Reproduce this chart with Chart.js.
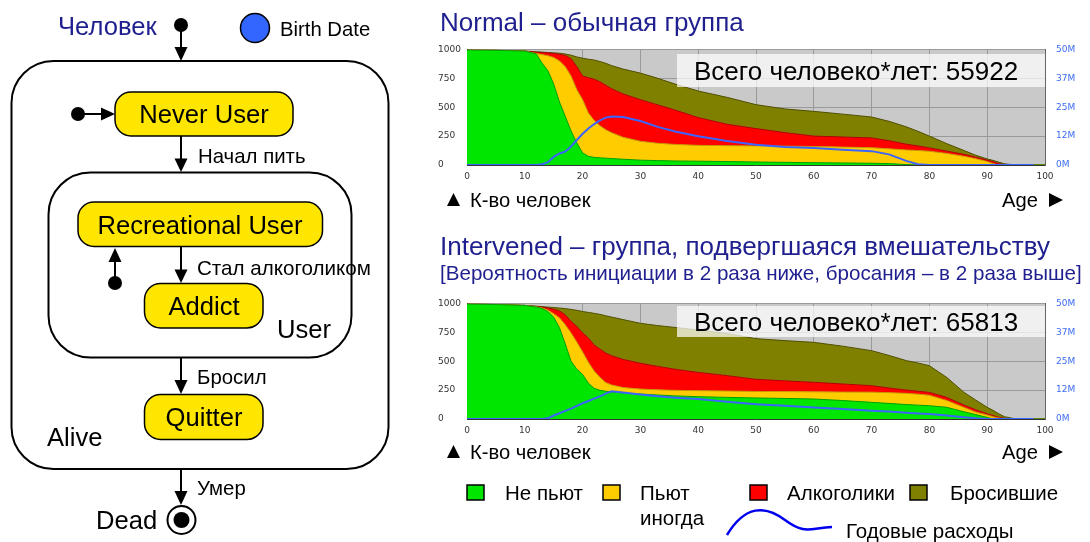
<!DOCTYPE html>
<html>
<head>
<meta charset="utf-8">
<script src="https://cdn.jsdelivr.net/npm/chart.js@4.4.1/dist/chart.umd.min.js"></script>
<style>
  body { margin: 0; background: #fff; width: 1090px; height: 542px; overflow: hidden; position: relative; font-family: "Liberation Sans", Arial, sans-serif; }
  .chartBox { position: absolute; left: 430px; width: 660px; height: 156px; }
  #overlay { position: absolute; left: 0; top: 0; pointer-events: none; }
  #overlay text { dominant-baseline: central; }
</style>
</head>
<body>
<div class="chartBox" style="top:33px"><canvas id="normalChart"></canvas></div>
<div class="chartBox" style="top:287px"><canvas id="intervChart"></canvas></div>

<svg id="overlay" width="1090" height="542" font-family="Liberation Sans, Arial, sans-serif">
  <!-- state diagram -->
  <text x="58" y="26" font-size="25.6" fill="#1f1f8f">Человек</text>
  <circle cx="181" cy="25" r="7" fill="#000"/>
  <line x1="181" y1="25" x2="181" y2="48" stroke="#000" stroke-width="2"/>
  <polygon points="174.5,47 187.5,47 181,61" fill="#000"/>
  <circle cx="255" cy="28" r="14.5" fill="#3366ff" stroke="#000" stroke-width="1.5"/>
  <text x="280" y="29" font-size="20.3">Birth Date</text>

  <rect x="11.5" y="61" width="377" height="408" rx="42" fill="none" stroke="#000" stroke-width="2"/>
  <rect x="115" y="92" width="178" height="44" rx="16" fill="#ffe600" stroke="#000" stroke-width="1.5"/>
  <text x="204" y="114" font-size="25.6" text-anchor="middle">Never User</text>
  <circle cx="78" cy="114" r="7" fill="#000"/>
  <line x1="78" y1="114" x2="102" y2="114" stroke="#000" stroke-width="2"/>
  <polygon points="101,107.5 101,120.5 115,114" fill="#000"/>

  <line x1="181" y1="136" x2="181" y2="160" stroke="#000" stroke-width="2"/>
  <polygon points="174.5,158.5 187.5,158.5 181,172" fill="#000"/>
  <text x="198" y="156" font-size="20.4">Начал пить</text>

  <rect x="48.5" y="172.5" width="303" height="185" rx="42" fill="none" stroke="#000" stroke-width="2"/>
  <rect x="78" y="202" width="244.5" height="44.5" rx="16" fill="#ffe600" stroke="#000" stroke-width="1.5"/>
  <text x="200" y="225" font-size="25.6" text-anchor="middle">Recreational User</text>
  <line x1="181" y1="247" x2="181" y2="270" stroke="#000" stroke-width="2"/>
  <polygon points="174.5,269.5 187.5,269.5 181,283" fill="#000"/>
  <text x="197" y="267" font-size="20.6">Стал алкоголиком</text>
  <circle cx="115" cy="283" r="7" fill="#000"/>
  <line x1="115" y1="283" x2="115" y2="261" stroke="#000" stroke-width="2"/>
  <polygon points="108.5,262 121.5,262 115,248" fill="#000"/>
  <rect x="144.5" y="283.5" width="118.5" height="44.5" rx="16" fill="#ffe600" stroke="#000" stroke-width="1.5"/>
  <text x="204" y="306" font-size="25.6" text-anchor="middle">Addict</text>
  <text x="277" y="329" font-size="25.6">User</text>

  <line x1="181" y1="358" x2="181" y2="381" stroke="#000" stroke-width="2"/>
  <polygon points="174.5,380 187.5,380 181,394" fill="#000"/>
  <text x="197" y="377" font-size="20.4">Бросил</text>
  <rect x="144.5" y="394.5" width="118.5" height="45" rx="16" fill="#ffe600" stroke="#000" stroke-width="1.5"/>
  <text x="204" y="417" font-size="25.6" text-anchor="middle">Quitter</text>
  <text x="47" y="437" font-size="25.6">Alive</text>

  <line x1="181" y1="469" x2="181" y2="492" stroke="#000" stroke-width="2"/>
  <polygon points="174.5,491 187.5,491 181,505" fill="#000"/>
  <text x="197" y="488" font-size="20.4">Умер</text>
  <circle cx="181.5" cy="520" r="14" fill="#fff" stroke="#000" stroke-width="2"/>
  <circle cx="181.5" cy="520" r="8" fill="#000"/>
  <text x="96" y="520" font-size="25.6">Dead</text>

  <!-- chart titles -->
  <text x="440" y="22" font-size="26" fill="#1f1f8f">Normal – обычная группа</text>
  <text x="440" y="246" font-size="26" fill="#1f1f8f">Intervened – группа, подвергшаяся вмешательству</text>
  <text x="440" y="272" font-size="20.6" fill="#1f1f8f">[Вероятность инициации в 2 раза ниже, бросания – в 2 раза выше]</text>

  <!-- totals boxes -->
  <rect x="677" y="54" width="368" height="33" fill="#ffffff" fill-opacity="0.72"/>
  <text x="694" y="71" font-size="26">Всего человеко*лет: 55922</text>
  <rect x="677" y="306" width="368" height="31" fill="#ffffff" fill-opacity="0.72"/>
  <text x="694" y="322" font-size="26">Всего человеко*лет: 65813</text>

  <!-- axis captions -->
  <polygon points="447,206 460,206 453.5,193" fill="#000"/>
  <text x="470" y="200" font-size="20.2">К-во человек</text>
  <text x="1002" y="200" font-size="20.2">Age</text>
  <polygon points="1049,193 1049,207 1063,200" fill="#000"/>
  <polygon points="447,458 460,458 453.5,445" fill="#000"/>
  <text x="470" y="452" font-size="20.2">К-во человек</text>
  <text x="1002" y="452" font-size="20.2">Age</text>
  <polygon points="1049,445 1049,459 1063,452" fill="#000"/>

  <!-- legend -->
  <rect x="467" y="485" width="17" height="15" fill="#00e600" stroke="#000" stroke-width="1.5"/>
  <text x="505" y="492" font-size="20.5">Не пьют</text>
  <rect x="603" y="485" width="17" height="15" fill="#ffcc00" stroke="#000" stroke-width="1.5"/>
  <text x="640" y="492" font-size="20.5">Пьют</text>
  <text x="640" y="517" font-size="20.5">иногда</text>
  <rect x="750" y="485" width="17" height="15" fill="#ff0000" stroke="#000" stroke-width="1.5"/>
  <text x="787" y="492" font-size="20.5">Алкоголики</text>
  <rect x="910" y="485" width="17" height="15" fill="#808000" stroke="#000" stroke-width="1.5"/>
  <text x="950" y="492" font-size="20.5">Бросившие</text>
  <path d="M727,535 C745,505 765,505 785,520 S810,528 832,527" fill="none" stroke="#0000ee" stroke-width="2.5"/>
  <text x="846" y="530" font-size="20.5">Годовые расходы</text>
</svg>

<script>
// ages (x axis)
const ages = [0, 5, 10, 12, 13, 14, 15, 16, 17, 18, 19, 20, 21, 22, 23, 24, 25, 27, 30, 33, 36, 40, 45, 50, 55, 60, 65, 70, 73, 76, 78, 80, 83, 86, 88, 90, 91, 92, 93, 95, 98, 100];

// Normal group: people in each state (of 1000) and yearly costs (M)
const normalNever     = [995, 992, 985, 960, 880, 815, 700, 545, 420, 295, 191, 105, 75, 66, 62, 59, 56, 50, 42, 38, 35, 33, 30, 26, 23, 20, 18, 15, 12, 4, 0, 0, 0, 0, 0, 0, 0, 0, 0, 0, 0, 0];
const normalSometimes = [0, 0, 0, 5, 75, 130, 230, 355, 430, 475, 460, 460, 375, 319, 278, 246, 224, 190, 163, 150, 143, 137, 137, 139, 140, 140, 137, 135, 128, 126, 125, 119, 100, 75, 55, 30, 12, 0, 0, 0, 0, 0];
const normalAddicts   = [0, 0, 0, 10, 17, 25, 35, 58, 98, 150, 199, 205, 305, 357, 380, 385, 380, 375, 360, 332, 297, 240, 185, 150, 117, 90, 87, 84, 70, 50, 40, 29, 20, 17, 13, 12, 16, 12, 0, 0, 0, 0];
const normalQuitters  = [0, 0, 0, 5, 5, 3, 5, 9, 12, 30, 85, 154, 160, 166, 175, 190, 200, 215, 230, 230, 225, 230, 233, 207, 205, 214, 198, 181, 168, 150, 127, 102, 65, 33, 17, 10, 12, 13, 10, 0, 0, 0];
const normalCost      = [0, 0, 0, 0, 0.3, 1.2, 3.5, 5, 5.8, 8, 10.8, 13.5, 15.8, 17.7, 19.3, 20.5, 21, 20.8, 19, 16.5, 14.5, 12.4, 10.4, 8.8, 7.8, 7.4, 6.6, 6, 4.6, 1.8, 0.3, 0, 0, 0, 0, 0, 0, 0, 0, 0, 0, null];

// Intervened group
const intervNever     = [995, 990, 982, 968, 955, 930, 880, 790, 650, 500, 430, 385, 310, 265, 248, 240, 235, 226, 216, 208, 200, 193, 187, 182, 178, 173, 160, 144, 135, 125, 120, 115, 101, 62, 38, 14, 0, 0, 0, 0, 0, 0];
const intervSometimes = [0, 0, 0, 2, 5, 12, 30, 85, 165, 245, 235, 195, 180, 150, 112, 75, 60, 46, 43, 44, 48, 52, 55, 56, 59, 62, 73, 88, 93, 97, 95, 90, 59, 38, 22, 21, 20, 8, 0, 0, 0, 0];
const intervAddicts   = [0, 0, 0, 3, 8, 18, 40, 60, 85, 100, 135, 165, 210, 225, 245, 255, 253, 243, 223, 203, 182, 158, 133, 105, 93, 82, 70, 56, 40, 28, 25, 25, 27, 20, 20, 10, 10, 7, 5, 0, 0, 0];
const intervQuitters  = [0, 0, 0, 3, 4, 8, 14, 25, 55, 103, 140, 185, 222, 274, 300, 323, 334, 345, 346, 353, 362, 367, 365, 352, 348, 346, 327, 303, 282, 255, 245, 231, 173, 110, 85, 56, 45, 30, 15, 0, 0, 0];
const intervCost      = [0, 0, 0, 0, 0, 0.3, 1.5, 2.5, 3.5, 4.5, 5.7, 6.8, 7.8, 8.8, 9.8, 11, 12, 11.5, 10.6, 9.8, 9.2, 8.6, 7.5, 6.4, 5.7, 5, 4.3, 3.6, 3.2, 2.7, 2.4, 2.2, 1.5, 0.8, 0.3, 0, 0, 0, 0, 0, 0, null];

const plotBg = {
  id: 'plotBg',
  beforeDraw(chart) {
    const { ctx, chartArea: a } = chart;
    ctx.save();
    ctx.fillStyle = '#c9c9c9';
    ctx.fillRect(a.left, a.top, a.right - a.left, a.bottom - a.top);
    ctx.restore();
  }
};

const toPoints = (values) => values.map((v, i) => ({ x: ages[i], y: v }));

const area = (label, values, fillColor, lineColor, fill) => ({
  label: label,
  data: toPoints(values),
  backgroundColor: fillColor,
  borderColor: lineColor,
  borderWidth: 1,
  pointRadius: 0,
  tension: 0,
  fill: fill,
  yAxisID: 'y'
});

const tickFont = { family: 'DejaVu Sans', size: 9 };

function drawGroup(canvasId, never, sometimes, addicts, quitters, cost) {
  return new Chart(document.getElementById(canvasId), {
    type: 'line',
    data: {
      datasets: [
        area('Не пьют', never, '#00e600', '#00a000', 'origin'),
        area('Пьют иногда', sometimes, '#ffcc00', '#c89600', '-1'),
        area('Алкоголики', addicts, '#ff0000', '#b00000', '-1'),
        area('Бросившие', quitters, '#808000', '#505000', '-1'),
        {
          label: 'Годовые расходы',
          data: toPoints(cost),
          borderColor: '#3c64ff',
          borderWidth: 2,
          pointRadius: 0,
          tension: 0,
          fill: false,
          yAxisID: 'y1',
          order: -1
        }
      ]
    },
    options: {
      responsive: true,
      maintainAspectRatio: false,
      animation: false,
      layout: { padding: { left: 8, top: 4, right: 0, bottom: 0 } },
      plugins: { legend: { display: false }, tooltip: { enabled: false } },
      scales: {
        x: {
          type: 'linear',
          min: 0,
          max: 100,
          z: 1,
          grid: { color: '#9a9a9a', drawTicks: false },
          border: { color: '#333333' },
          ticks: { stepSize: 10, padding: 6, autoSkip: false, maxRotation: 0, color: '#333333', font: tickFont },
          afterFit: (scale) => { scale.height = 24; }
        },
        y: {
          stacked: true,
          min: 0,
          max: 1000,
          z: 1,
          grid: { color: '#9a9a9a', drawTicks: false },
          border: { color: '#333333' },
          ticks: { stepSize: 250, crossAlign: 'far', color: '#333333', font: tickFont, callback: (v) => String(v) },
          afterFit: (scale) => { scale.width = 29; }
        },
        y1: {
          position: 'right',
          min: 0,
          max: 50,
          grid: { display: false, drawTicks: false },
          border: { color: '#666666' },
          ticks: { stepSize: 12.5, padding: 11, color: '#3d6df2', font: tickFont, callback: (v) => Math.floor(v) + 'M' },
          afterFit: (scale) => { scale.width = 45; }
        }
      }
    },
    plugins: [plotBg]
  });
}

drawGroup('normalChart', normalNever, normalSometimes, normalAddicts, normalQuitters, normalCost);
drawGroup('intervChart', intervNever, intervSometimes, intervAddicts, intervQuitters, intervCost);
</script>
</body>
</html>
